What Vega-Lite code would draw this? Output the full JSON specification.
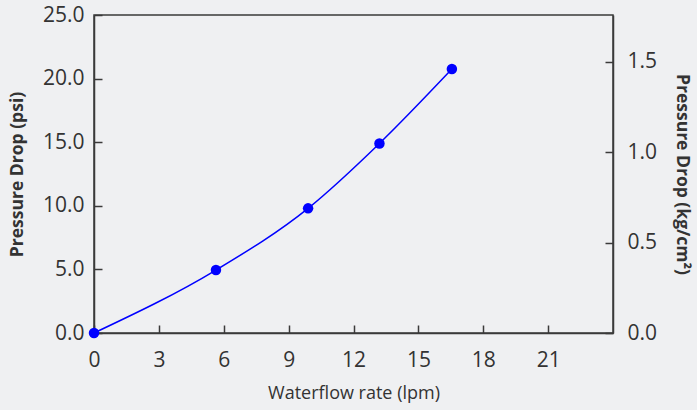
{
  "$schema": "https://vega.github.io/schema/vega-lite/v6.json",
  "width": 519,
  "height": 318,
  "autosize": {"type": "none"},
  "padding": {"left": 94, "top": 15, "right": 84, "bottom": 77},
  "background": "#eff0f2",
  "config": {
    "view": {"stroke": "#3a3a3a", "strokeWidth": 1.5},
    "font": "Open Sans",
    "axis": {
      "grid": false,
      "domainColor": "#3a3a3a",
      "domainWidth": 1.5,
      "tickColor": "#3a3a3a",
      "tickWidth": 1.5,
      "tickSize": -8,
      "labelColor": "#333333",
      "labelFontSize": 21,
      "labelFlush": false,
      "titleColor": "#333333"
    }
  },
  "layer": [
    {
      "data": {
        "values": [
          {"flow": 0, "psi": 0},
          {"flow": 5.64, "psi": 4.95},
          {"flow": 9.9, "psi": 9.8},
          {"flow": 13.2, "psi": 14.9},
          {"flow": 16.55, "psi": 20.75}
        ]
      },
      "layer": [
        {
          "mark": {"type": "line", "color": "#0000ff", "strokeWidth": 1.5, "interpolate": "monotone"},
          "encoding": {}
        },
        {
          "mark": {"type": "circle", "color": "#0000ff", "opacity": 1, "size": 110},
          "encoding": {}
        }
      ],
      "encoding": {
        "x": {
          "field": "flow",
          "type": "quantitative",
          "scale": {"domain": [0, 24], "nice": false},
          "axis": {
            "values": [0, 3, 6, 9, 12, 15, 18, 21],
            "title": "Waterflow rate (lpm)",
            "titleFontSize": 18,
            "titleFontWeight": "normal",
            "titlePadding": 14,
            "labelPadding": 24
          }
        },
        "y": {
          "field": "psi",
          "type": "quantitative",
          "scale": {"domain": [0, 25], "nice": false},
          "axis": {
            "values": [0, 5, 10, 15, 20, 25],
            "format": ".1f",
            "title": "Pressure Drop (psi)",
            "titleFontSize": 17.5,
            "titleFontWeight": "bold",
            "titlePadding": 16,
            "labelPadding": 18
          }
        }
      }
    },
    {
      "data": {"values": [{"kg": 0}, {"kg": 1.7577}]},
      "mark": {"type": "tick", "opacity": 0},
      "encoding": {
        "y": {
          "field": "kg",
          "type": "quantitative",
          "scale": {"domain": [0, 1.7577], "nice": false, "zero": true},
          "axis": {
            "orient": "right",
            "values": [0, 0.5, 1, 1.5],
            "format": ".1f",
            "title": "Pressure Drop (kg/cm²)",
            "titleFontSize": 17.5,
            "titleFontWeight": "bold",
            "titleAngle": 90,
            "titlePadding": 16,
            "labelPadding": 22
          }
        }
      }
    }
  ],
  "resolve": {"scale": {"y": "independent"}}
}
